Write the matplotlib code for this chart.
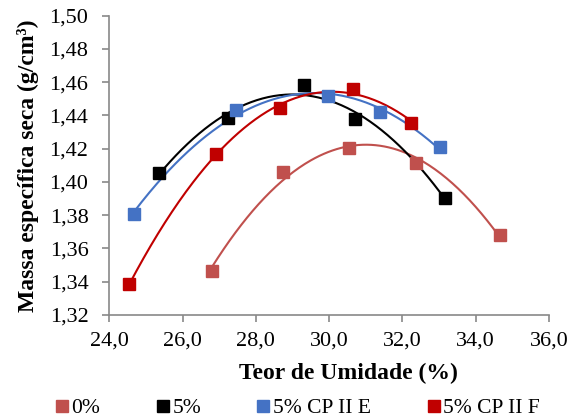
import numpy as np
import matplotlib
matplotlib.use("Agg")
import matplotlib.pyplot as plt
from matplotlib.ticker import FuncFormatter, MultipleLocator

plt.rcParams['font.family'] = ['Liberation Serif', 'DejaVu Serif']

x_0 = [26.81, 28.73, 30.53, 32.38, 34.67]
y_0 = [1.3467, 1.4062, 1.4203, 1.4112, 1.3681]
x_5 = [25.35, 27.25, 29.31, 30.72, 33.17]
y_5 = [1.4052, 1.4383, 1.4583, 1.4377, 1.3902]
x_e = [24.67, 27.47, 29.96, 31.38, 33.04]
y_e = [1.3808, 1.4433, 1.4517, 1.4419, 1.4209]
x_f = [24.55, 26.90, 28.67, 30.65, 32.24]
y_f = [1.3387, 1.4168, 1.4443, 1.4557, 1.4357]

labels = ['0%', '5%', '5% CP II E', '5% CP II F']
colors = ['#C0504D', '#000000', '#4472C4', '#C00000']
series = [(x_0, y_0), (x_5, y_5), (x_e, y_e), (x_f, y_f)]

fig = plt.figure(figsize=(5.79, 4.19), dpi=100)
ax = fig.add_axes([0.1888, 0.2482, 0.7592, 0.7143])

for (xs, ys), c, lab in zip(series, colors, labels):
    coef = np.polyfit(xs, ys, 2)
    xx = np.linspace(min(xs), max(xs), 200)
    ax.plot(xx, np.polyval(coef, xx), color=c, lw=1.5, zorder=2)
    ax.plot(xs, ys, 's', color=c, ms=8.5, zorder=3, label=lab, linestyle='none')

ax.set_xlim(24, 36)
ax.set_ylim(1.32, 1.50)
ax.xaxis.set_major_locator(MultipleLocator(2))
ax.yaxis.set_major_locator(MultipleLocator(0.02))
ax.xaxis.set_major_formatter(FuncFormatter(lambda v, p: f"{v:.1f}".replace('.', ',')))
ax.yaxis.set_major_formatter(FuncFormatter(lambda v, p: f"{v:.2f}".replace('.', ',')))

for s in ['top', 'right']:
    ax.spines[s].set_visible(False)
for s in ['left', 'bottom']:
    ax.spines[s].set_color('#898989')
    ax.spines[s].set_linewidth(1.2)
ax.tick_params(axis='both', colors='#898989', labelcolor='black', labelsize=16,
               length=5, width=1.2, direction='out')
ax.tick_params(axis='y', pad=10)
ax.tick_params(axis='x', pad=7)

ax.set_xlabel('Teor de Umidade (%)', fontsize=17, fontweight='bold', va='center')
ax.xaxis.set_label_coords(0.545, -0.195)
ax.set_ylabel('Massa específica seca (g/cm³)', fontsize=17, fontweight='bold', va='center')
ax.yaxis.set_label_coords(-0.184, 0.5)

leg = fig.legend(*ax.get_legend_handles_labels(), loc='center', bbox_to_anchor=(0.514, 0.026),
                 ncol=4, frameon=False, fontsize=15.5, handlelength=0.6, handletextpad=0.15,
                 columnspacing=2.6, markerscale=1.0, borderpad=0, borderaxespad=0)

fig.savefig('out.png', dpi=100)
